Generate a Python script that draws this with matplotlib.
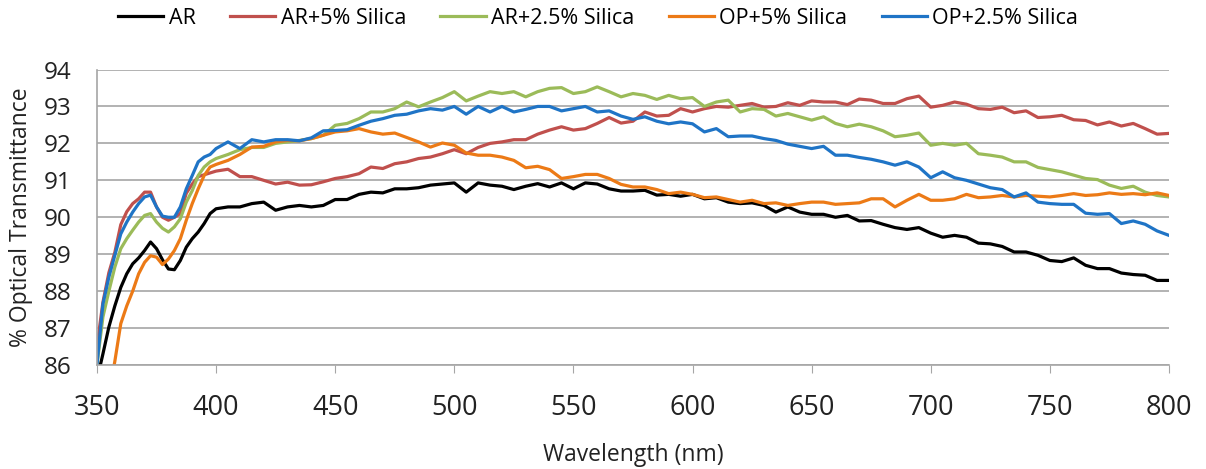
import numpy as np
import matplotlib
matplotlib.use("Agg")
import matplotlib.pyplot as plt

# wavelength grid (nm): 2.5 nm steps up to 400, then 5 nm
wavelength = [350, 352.5, 355, 357.5, 360, 362.5, 365, 367.5, 370, 372.5, 375,
              377.5, 380, 382.5, 385, 387.5, 390, 392.5, 395, 397.5, 400] + list(range(405, 801, 5))

ar = [85.6, 86.3, 87.03, 87.6, 88.1, 88.47, 88.74, 88.9, 89.1, 89.33, 89.15,
      88.85, 88.6, 88.58, 88.83, 89.19, 89.42, 89.6, 89.83, 90.1, 90.23,
      90.28, 90.28, 90.37, 90.41, 90.19, 90.28, 90.32, 90.28, 90.32, 90.48,
      90.48, 90.62, 90.68, 90.66, 90.77, 90.77, 90.8, 90.87, 90.9, 90.93,
      90.68, 90.93, 90.87, 90.84, 90.75, 90.84, 90.91, 90.82, 90.93, 90.77,
      90.93, 90.9, 90.77, 90.71, 90.71, 90.73, 90.6, 90.62, 90.57, 90.62,
      90.5, 90.53, 90.41, 90.37, 90.39, 90.32, 90.14, 90.28, 90.14, 90.08,
      90.08, 90.0, 90.05, 89.9, 89.91, 89.81, 89.72, 89.67, 89.72, 89.57,
      89.46, 89.51, 89.46, 89.3, 89.28, 89.21, 89.06, 89.06, 88.97, 88.83,
      88.8, 88.9, 88.7, 88.61, 88.61, 88.49, 88.45, 88.43, 88.29, 88.29]

ar_5_silica = [86.5, 87.7, 88.5, 89.05, 89.8, 90.15, 90.37, 90.5, 90.68, 90.68, 90.28,
               90.0, 89.92, 90.0, 90.1, 90.65, 90.9, 91.1, 91.15, 91.2, 91.25,
               91.3, 91.1, 91.1, 91.0, 90.9, 90.95, 90.87, 90.88, 90.96, 91.05,
               91.1, 91.18, 91.36, 91.32, 91.45, 91.5, 91.59, 91.63, 91.72, 91.83,
               91.72, 91.89, 92.0, 92.04, 92.1, 92.1, 92.25, 92.36, 92.45, 92.36,
               92.4, 92.54, 92.7, 92.55, 92.6, 92.85, 92.74, 92.76, 92.94, 92.85,
               92.94, 93.0, 92.98, 93.03, 93.08, 92.98, 93.0, 93.1, 93.03, 93.15,
               93.12, 93.12, 93.05, 93.2, 93.17, 93.08, 93.08, 93.21, 93.28, 92.98,
               93.03, 93.12, 93.06, 92.94, 92.92, 92.98, 92.83, 92.88, 92.7, 92.72,
               92.76, 92.64, 92.62, 92.5, 92.58, 92.47, 92.54, 92.4, 92.25, 92.27]

ar_25_silica = [86.0, 87.3, 88.0, 88.65, 89.15, 89.42, 89.65, 89.87, 90.05, 90.1, 89.87,
                89.7, 89.6, 89.74, 89.96, 90.41, 90.72, 91.13, 91.36, 91.5, 91.59,
                91.7, 91.83, 91.89, 91.89, 92.0, 92.04, 92.08, 92.13, 92.22, 92.49,
                92.54, 92.67, 92.85, 92.85, 92.94, 93.12, 92.99, 93.12, 93.24, 93.4,
                93.15, 93.28, 93.4, 93.35, 93.4, 93.26, 93.4, 93.49, 93.51, 93.35,
                93.4, 93.53, 93.4, 93.26, 93.35, 93.3, 93.19, 93.3, 93.21, 93.24,
                93.0, 93.12, 93.17, 92.85, 92.94, 92.92, 92.74, 92.81, 92.72, 92.63,
                92.72, 92.54, 92.45, 92.52, 92.45, 92.34, 92.18, 92.22, 92.28, 91.95,
                92.0, 91.95, 92.0, 91.72, 91.68, 91.63, 91.5, 91.5, 91.35, 91.29,
                91.23, 91.14, 91.05, 91.02, 90.87, 90.78, 90.84, 90.68, 90.59, 90.55]

op_5_silica = [83.5, 84.3, 85.2, 86.1, 87.12, 87.6, 88.0, 88.47, 88.78, 88.96, 88.92,
               88.72, 88.87, 89.1, 89.42, 89.92, 90.37, 90.77, 91.13, 91.36, 91.43,
               91.54, 91.7, 91.9, 91.92, 92.04, 92.08, 92.07, 92.13, 92.22, 92.31,
               92.34, 92.4, 92.31, 92.25, 92.28, 92.16, 92.04, 91.9, 92.01, 91.95,
               91.74, 91.68, 91.68, 91.63, 91.54, 91.34, 91.38, 91.29, 91.05, 91.1,
               91.16, 91.16, 91.05, 90.89, 90.82, 90.82, 90.75, 90.64, 90.68, 90.62,
               90.53, 90.55, 90.48, 90.41, 90.46, 90.37, 90.39, 90.32, 90.37, 90.41,
               90.41, 90.35, 90.37, 90.39, 90.5, 90.5, 90.28, 90.46, 90.62, 90.46,
               90.46, 90.5, 90.62, 90.53, 90.55, 90.59, 90.55, 90.59, 90.57, 90.55,
               90.59, 90.64, 90.59, 90.61, 90.66, 90.62, 90.64, 90.61, 90.66, 90.59]

op_25_silica = [86.0, 87.65, 88.38, 88.97, 89.55, 89.87, 90.14, 90.37, 90.55, 90.6, 90.28,
                90.03, 90.0, 90.0, 90.28, 90.77, 91.13, 91.5, 91.63, 91.7, 91.86,
                92.04, 91.86, 92.1, 92.04, 92.1, 92.1, 92.07, 92.15, 92.34, 92.35,
                92.37, 92.49, 92.6, 92.67, 92.76, 92.79, 92.88, 92.94, 92.9, 93.0,
                92.79, 93.0, 92.85, 93.0, 92.85, 92.92, 93.0, 93.0, 92.88, 92.94,
                93.0, 92.85, 92.88, 92.74, 92.65, 92.72, 92.6, 92.53, 92.58, 92.53,
                92.31, 92.4, 92.18, 92.2, 92.2, 92.13, 92.08, 91.98, 91.92, 91.86,
                91.92, 91.68, 91.68, 91.62, 91.57, 91.5, 91.41, 91.5, 91.36, 91.07,
                91.23, 91.07, 91.0, 90.9, 90.8, 90.75, 90.55, 90.66, 90.41, 90.37,
                90.35, 90.35, 90.11, 90.08, 90.1, 89.83, 89.9, 89.81, 89.63, 89.51]

series_labels = ["AR", "AR+5% Silica", "AR+2.5% Silica", "OP+5% Silica", "OP+2.5% Silica"]
series_colors = ["#000000", "#C0504D", "#9BBB59", "#EC7A16", "#1F74C6"]
series_values = [ar, ar_5_silica, ar_25_silica, op_5_silica, op_25_silica]

plt.rcParams["font.family"] = ["Open Sans", "DejaVu Sans"]

fig = plt.figure(figsize=(12.06, 4.69), dpi=100)
ax = fig.add_axes([0.0804, 0.2217, 0.8889, 0.6301])

for label, color, values in zip(series_labels, series_colors, series_values):
    ax.plot(wavelength, values, color=color, linewidth=2.3, label=label)

ax.set_xlim(350, 800)
ax.set_ylim(86, 94)
ax.set_xticks(np.arange(350, 801, 50))
ax.set_yticks(np.arange(86, 95, 1))
ax.grid(axis="y", color="#A6A6A6", linewidth=1.2)
ax.set_axisbelow(True)
for side in ["top", "right"]:
    ax.spines[side].set_visible(False)
for side in ["left", "bottom"]:
    ax.spines[side].set_color("#A6A6A6")
    ax.spines[side].set_linewidth(1.2)
ax.tick_params(axis="x", direction="out", length=6, color="#A6A6A6", labelsize=19.5,
               labelcolor="#222222", pad=15)
ax.tick_params(axis="y", length=0, labelsize=17.5, labelcolor="#222222", pad=18)
ax.set_xlabel("Wavelength (nm)", fontsize=16.5, labelpad=15, color="#222222")
ax.set_ylabel("% Optical Transmittance", fontsize=16.5, labelpad=8, color="#222222")

fig.legend(loc="upper center", bbox_to_anchor=(0.496, 1.025), ncol=5, frameon=False,
           fontsize=15.5, handlelength=2.1, handletextpad=0.25, columnspacing=1.6)

fig.savefig("out.png", dpi=100)
